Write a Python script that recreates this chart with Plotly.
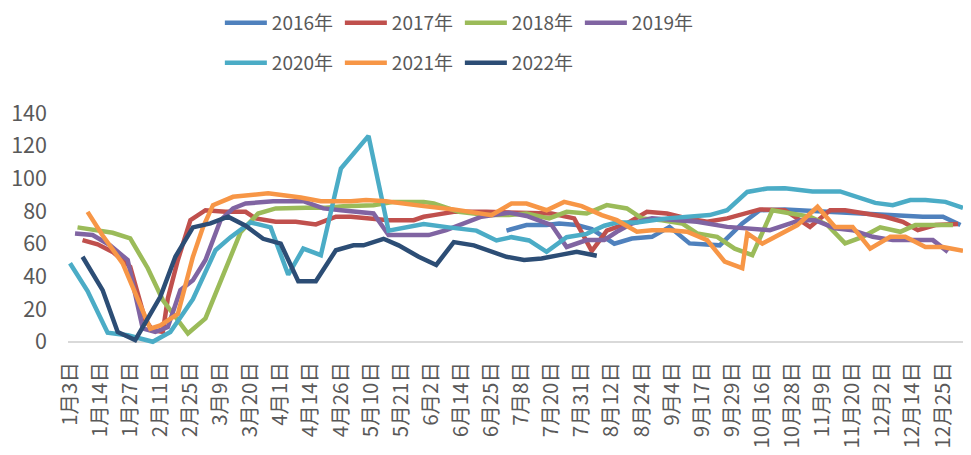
import plotly.graph_objects as go

# ---- category axis (rows of the source table); a label is shown every 12 rows ----
tick_labels = ["1月3日", "1月14日", "1月27日", "2月11日", "2月25日", "3月9日", "3月20日",
               "4月1日", "4月14日", "4月26日", "5月10日", "5月21日", "6月2日", "6月14日",
               "6月25日", "7月8日", "7月20日", "7月31日", "8月12日", "8月24日", "9月4日",
               "9月17日", "9月29日", "10月16日", "10月28日", "11月9日", "11月20日",
               "12月2日", "12月14日", "12月25日"]
label_every = 12
n_rows = 357

# ---- series: row index of each observation and its value ----
idx_2016 = [174, 182, 190, 195, 202, 208, 217, 224, 232, 239, 247, 259, 268, 275, 285, 303, 316, 329, 340, 348, 355]
val_2016 = [68, 71.4, 71.4, 72.4, 71.4, 69, 60, 63.2, 64.2, 70.3, 60.2, 59, 72.4, 80.5, 81, 79.5, 78.5, 77.5, 76.5, 76.5, 71.4]

idx_2017 = [5, 11, 17, 24, 30, 33, 37, 39, 43, 48, 54, 62, 70, 74, 82, 90, 98, 106, 112, 121, 127, 137, 141, 145,
            153, 166, 174, 183, 192, 201, 208, 214, 222, 230, 238, 246, 254, 262, 270, 275, 285, 289, 295, 303,
            309, 317, 325, 332, 338, 345, 354]
val_2017 = [62.2, 59.6, 55, 45.9, 13.3, 7, 6, 26.5, 50, 74.4, 80.5, 79.5, 79.5, 75.5, 73.4, 73.4, 71.8, 76.5, 76.5,
            74.9, 74.4, 74.4, 76.5, 77.5, 79.5, 79.5, 79, 78.5, 78.5, 75.5, 55.5, 68, 72.4, 79.5, 78.5, 75.5, 73.4,
            75.5, 78.5, 81, 80.5, 76.5, 70.3, 80.5, 80.5, 78.5, 76.5, 73.4, 68.3, 71.4, 72]

idx_2018 = [3, 9, 17, 24, 31, 37, 47, 54, 61, 68, 75, 82, 94, 102, 109, 121, 129, 141, 145, 155, 166, 175, 182,
            191, 198, 206, 214, 222, 228, 236, 244, 250, 258, 265, 272, 280, 295, 302, 309, 316, 323, 331, 337,
            345, 352]
val_2018 = [70, 68.3, 66.7, 63.2, 45, 25.5, 5, 14.3, 40, 67, 78.5, 81.6, 82, 82, 83, 83.6, 85.6, 85.6, 84.6, 79.5,
            77.5, 77.5, 78.5, 75.5, 79.5, 78.5, 83.6, 81.6, 75.5, 74.4, 72.4, 66.3, 64.2, 57, 53, 80.5, 76.5, 71.4,
            60.2, 64.2, 70, 67.3, 71.4, 71.4, 71.4]

idx_2019 = [2, 9, 16, 23, 29, 34, 39, 44, 49, 54, 60, 65, 70, 81, 93, 101, 108, 121, 127, 143, 150, 157, 164,
            175, 182, 192, 198, 206, 213, 218, 224, 232, 250, 262, 271, 279, 291, 297, 305, 312, 320, 328, 336,
            344, 350]
val_2019 = [66.3, 65.3, 59, 50, 8.2, 6, 9, 31.6, 37.7, 50, 74.4, 81.6, 84.6, 86, 86, 81.6, 80.5, 78.5, 65.3, 65.3,
            68.3, 72.4, 76.5, 79, 77, 71.4, 58, 62.2, 62.2, 67.3, 72.4, 75.5, 73.4, 70.3, 69.4, 68.3, 74.4, 74.4,
            69.4, 68.3, 64.2, 62.2, 62.2, 62.2, 55]

idx_2020 = [0, 7, 15, 23, 33, 40, 49, 58, 64, 72, 80, 87, 93, 100, 108, 119, 127, 141, 151, 162, 170, 176, 183,
            190, 198, 206, 213, 218, 226, 238, 255, 262, 270, 278, 285, 296, 307, 315, 321, 328, 335, 341, 349, 356]
val_2020 = [48, 31, 5.5, 4, 0, 6, 26, 56, 64, 73, 70, 41, 57, 53, 106, 126, 68, 72, 70, 68, 62, 64, 62, 55, 64, 66,
            71, 73, 73, 75.5, 77.5, 80.5, 91.7, 93.8, 94, 92, 92, 88, 85, 83.6, 86.7, 86.7, 85.6, 82]

idx_2021 = [7, 13, 21, 26, 32, 36, 43, 49, 53, 57, 65, 79, 92, 100, 112, 118, 126, 141, 153, 168, 176, 182, 190,
            197, 204, 212, 218, 226, 232, 239, 246, 254, 261, 268, 270, 276, 290, 298, 305, 312, 319, 327, 333,
            341, 348, 356]
val_2021 = [79.5, 65, 48, 29.6, 8, 10, 17, 52, 70, 83.6, 88.7, 90.8, 88.3, 86, 86, 86.7, 86, 83, 81, 77.5, 84.6,
            84.6, 80.5, 85.6, 83, 77.5, 74.4, 67.3, 68.3, 68.3, 67.3, 62.2, 49, 45, 66.3, 60, 71.4, 82.6, 70.3,
            70.3, 57, 64.2, 64.2, 58, 58, 55.7]

idx_2022 = [5, 13, 19, 26, 36, 42, 49, 56, 63, 70, 77, 84, 91, 98, 106, 113, 117, 125, 131, 139, 146, 153, 161,
            167, 174, 181, 188, 195, 202, 210]
val_2022 = [52, 31.6, 6, 1, 27.5, 52, 70, 72.4, 76.5, 71, 63, 60, 37, 37, 56, 59, 59, 63, 59, 52, 47, 61, 59, 56,
            52, 50, 51, 53, 55, 52.6]

series = [
    ("2016年", idx_2016, val_2016, "#4F81BD", "legend"),
    ("2017年", idx_2017, val_2017, "#C0504D", "legend"),
    ("2018年", idx_2018, val_2018, "#9BBB59", "legend"),
    ("2019年", idx_2019, val_2019, "#8064A2", "legend"),
    ("2020年", idx_2020, val_2020, "#4BACC6", "legend2"),
    ("2021年", idx_2021, val_2021, "#F79646", "legend2"),
    ("2022年", idx_2022, val_2022, "#2C4D75", "legend2"),
]

FONT = "'Noto Sans CJK SC', 'Noto Sans', sans-serif"
TXT = "#595959"

fig = go.Figure()
for name, xs, ys, color, lg in series:
    fig.add_trace(go.Scatter(x=xs, y=ys, mode="lines", name=name, legend=lg,
                             line=dict(color=color, width=4.5)))

legend_common = dict(orientation="h", xanchor="left", yanchor="middle",
                     font=dict(family=FONT, size=19, color=TXT),
                     itemwidth=42, entrywidth=63, bgcolor="rgba(0,0,0,0)",
                     itemclick=False, itemdoubleclick=False)

fig.update_layout(
    width=963, height=447,
    margin=dict(l=60, r=6, t=105, b=110, autoexpand=False),
    paper_bgcolor="white", plot_bgcolor="white",
    font=dict(family=FONT, color=TXT),
    showlegend=True,
    legend=dict(x=0.1693, y=1.3879, **legend_common),
    legend2=dict(x=0.1693, y=1.2155, **legend_common),
    xaxis=dict(range=[-0.8, n_rows - 1 + 0.8],
               tickmode="array",
               tickvals=[i * label_every for i in range(len(tick_labels))],
               ticktext=tick_labels, tickangle=-90,
               tickfont=dict(family=FONT, size=20.5, color=TXT),
               showgrid=False, zeroline=False, showline=False, ticks="",
               ticklabelstandoff=12),
    yaxis=dict(range=[-2, 140], tickmode="array", tickvals=list(range(0, 141, 20)),
               tickfont=dict(family=FONT, size=21.5, color=TXT),
               showgrid=False, zeroline=True, zerolinecolor="#D9D9D9", zerolinewidth=2,
               showline=False, ticks="", ticklabelstandoff=20),
)

fig.write_html("out.html")
